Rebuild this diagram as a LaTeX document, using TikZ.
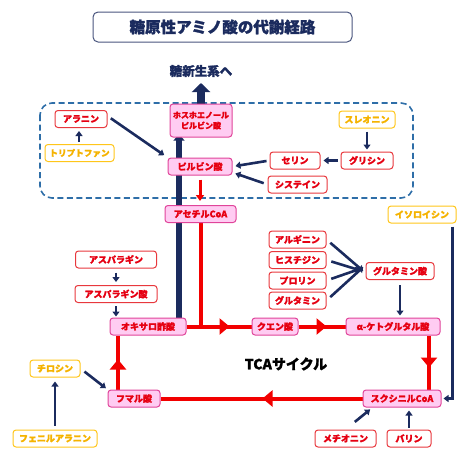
\documentclass[tikz,border=0pt]{standalone}
\usepackage{fontspec}
\setmainfont{Noto Sans CJK JP}[BoldFeatures={FakeBold=1.5}]
\usetikzlibrary{arrows.meta,decorations.markings,backgrounds}
\definecolor{navy}{HTML}{1B2B5E}
\definecolor{flowred}{HTML}{F20000}
\definecolor{txtred}{HTML}{E60012}
\definecolor{boxred}{HTML}{E8383D}
\definecolor{pinkfill}{HTML}{FFCCF2}
\definecolor{pinkline}{HTML}{E0449A}
\definecolor{yelline}{HTML}{FFC61A}
\definecolor{yeltext}{HTML}{F5B300}
\definecolor{dashblue}{HTML}{2E6EA8}
\tikzset{
  base/.style={rounded corners=3pt, line width=1pt, inner sep=0pt,
    minimum height=17pt, align=center, font=\fontsize{9}{10}\selectfont\bfseries},
  pinkbox/.style={base, draw=pinkline, fill=pinkfill, text=txtred},
  redbox/.style={base, draw=boxred, fill=white, text=txtred},
  yelbox/.style={base, draw=yelline, fill=white, text=yeltext},
  navyarrow/.style={draw=navy, line width=2.6pt, -{Triangle[width=7pt,length=5pt]}},
  redflow/.style={draw=flowred, line width=4pt},
  redmark/.style={postaction={decorate}, decoration={markings,
    mark=at position #1 with {\arrow{Triangle[width=16pt,length=10pt]}}}},
}
\begin{document}
\begin{tikzpicture}[x=1pt,y=-1pt]
\useasboundingbox (0,0) rectangle (474,461);
% title
\node[draw=navy!80, line width=1pt, rounded corners=5pt, minimum width=259pt, minimum height=30pt,
  inner sep=0pt, text=navy, font=\fontsize{15.5}{16}\selectfont\bfseries] (title) at (222.5,27) {糖原性アミノ酸の代謝経路};
\node[text=navy, font=\fontsize{12.5}{13}\selectfont\bfseries] (gluco) at (201,71) {糖新生系へ};
\coordinate (glutip) at (201,83);
\coordinate (colx) at (179,0);
% nodes
\node[pinkbox, minimum width=62pt, minimum height=33pt, font=\fontsize{8}{10.5}\selectfont\bfseries] (pep) at (201,120.5) {ホスホエノール\\ピルビン酸};
\node[redbox, minimum width=52pt] (ala) at (81,119) {アラニン};
\node[yelbox, minimum width=69pt, font=\fontsize{8.6}{10}\selectfont\bfseries] (trp) at (79.5,153) {トリプトファン};
\node[pinkbox, minimum width=64pt] (pyr) at (200,166.5) {ピルビン酸};
\node[yelbox, minimum width=56pt] (thr) at (367,119.5) {スレオニン};
\node[redbox, minimum width=52pt] (gly) at (367,160.5) {グリシン};
\node[redbox, minimum width=50pt] (ser) at (295,160.5) {セリン};
\node[redbox, minimum width=59pt] (cys) at (297.5,184.5) {システイン};
\node[pinkbox, minimum width=71pt] (acoa) at (200.5,214) {アセチルCoA};
\node[redbox, minimum width=81pt] (asn) at (116,259.5) {アスパラギン};
\node[redbox, minimum width=82pt] (asp) at (116,294) {アスパラギン酸};
\node[pinkbox, minimum width=76pt] (oaa) at (148,326.5) {オキサロ酢酸};
\node[pinkbox, minimum width=46pt] (cit) at (275,326.5) {クエン酸};
\node[pinkbox, minimum width=94pt] (akg) at (393,326.5) {α-ケトグルタル酸};
\node[redbox, minimum width=57pt] (arg) at (297.5,239.5) {アルギニン};
\node[redbox, minimum width=57pt] (his) at (297.5,260) {ヒスチジン};
\node[redbox, minimum width=57pt] (pro) at (297.5,280.5) {プロリン};
\node[redbox, minimum width=57pt] (gln) at (297.5,300.5) {グルタミン};
\node[redbox, minimum width=68pt] (glu) at (400,271) {グルタミン酸};
\node[yelbox, minimum width=68pt] (ile) at (422,214.5) {イソロイシン};
\node[pinkbox, minimum width=78pt] (suc) at (402,398.5) {スクシニルCoA};
\node[pinkbox, minimum width=52pt] (fum) at (134,398.5) {フマル酸};
\node[yelbox, minimum width=50pt] (tyr) at (55,368.5) {チロシン};
\node[yelbox, minimum width=84pt] (phe) at (55,438.5) {フェニルアラニン};
\node[redbox, minimum width=61pt] (met) at (345.5,438.5) {メチオニン};
\node[redbox, minimum width=44pt] (val) at (409,438.5) {バリン};
\node[font=\fontsize{14}{15}\selectfont\bfseries, text=black] (tca) at (286,364) {TCAサイクル};
\begin{pgfonlayer}{background}
\draw[dashblue, line width=1.6pt, dash pattern=on 6pt off 3.5pt, rounded corners=12pt] (40,103) rectangle (413,198);
% big arrow to gluconeogenesis
\draw[navy, line width=8pt, -{Triangle[width=18pt,length=9pt]}] (pep.north) -- (glutip);
% navy column from oxaloacetate up to PEP
\draw[navy, line width=6pt, -{Triangle[width=11pt,length=6pt]}] (oaa.north -| colx) -- ([yshift=3pt]pep.south -| colx);
% small navy arrows
\draw[navyarrow, shorten <=2pt, shorten >=3pt] (trp.north -| 79,0) -- (ala.south -| 79,0);
\draw[navyarrow, shorten <=4pt, shorten >=4pt] ([yshift=3pt]ala.east) -- (pyr.north west);
\draw[navyarrow, shorten <=3pt, shorten >=2pt] (thr.south) -- (gly.north);
\draw[navyarrow, shorten <=3pt, shorten >=3pt] (gly.west) -- (ser.east);
\draw[navyarrow, shorten <=3pt, shorten >=3pt] (ser.west) -- (pyr.east);
\draw[navyarrow, shorten <=4pt, shorten >=3pt] (cys.west) -- ([yshift=3pt]pyr.south east);
\draw[navyarrow, shorten <=4pt, shorten >=3pt] (asn.south) -- (asp.north);
\draw[navyarrow, shorten <=3pt, shorten >=1pt] (asp.south) -- (asp.south |- oaa.north);
\draw[navyarrow, shorten <=5pt, shorten >=3pt] (arg.east) -- ([yshift=-2pt]glu.west);
\draw[navyarrow, shorten <=5pt, shorten >=5pt] (his.east) -- ([yshift=-1pt]glu.west);
\draw[navyarrow, shorten <=5pt, shorten >=5pt] (pro.east) -- ([yshift=4pt]glu.west);
\draw[navyarrow, shorten <=5pt, shorten >=3pt] (gln.east) -- ([yshift=6pt]glu.west);
\draw[navyarrow, shorten <=5pt, shorten >=2pt] (glu.south) -- (akg.north -| glu.south);
\draw[navyarrow, shorten <=3pt] ([xshift=-4pt]ile.south east) |- ([xshift=2pt]suc.east);
\draw[navyarrow, shorten <=12pt, shorten >=3pt] (met.north) -- ([xshift=10pt]suc.south west);
\draw[navyarrow, shorten <=2pt, shorten >=3pt] (val.north) -- (val.north |- suc.south);
\draw[navyarrow, shorten <=5pt, shorten >=2pt] (tyr.east) -- (fum.north west);
\draw[navyarrow, shorten <=4pt, shorten >=4pt] (phe.north -| tyr.south) -- (tyr.south);
% red flow
\draw[flowred, line width=3pt, -{Triangle[width=8pt,length=6pt]}, shorten <=4pt, shorten >=4pt] (pyr.south) -- (pyr.south |- acoa.north);
\draw[redflow] (acoa.south) -- (acoa.south |- oaa.east);
\draw[redflow, redmark=43pt] (oaa.east) -- (cit.west);
\draw[redflow, redmark=28pt] (cit.west -| cit.east) -- (akg.west);
\draw[redflow, redmark=32pt] (akg.south -| 429,0) -- (suc.north -| 429,0);
\draw[redflow, redmark=100pt] (suc.west) -- (fum.east);
\draw[redflow, redmark=30pt] (fum.north -| 118,0) -- (oaa.south -| 118,0);
\end{pgfonlayer}
\end{tikzpicture}
\end{document}
